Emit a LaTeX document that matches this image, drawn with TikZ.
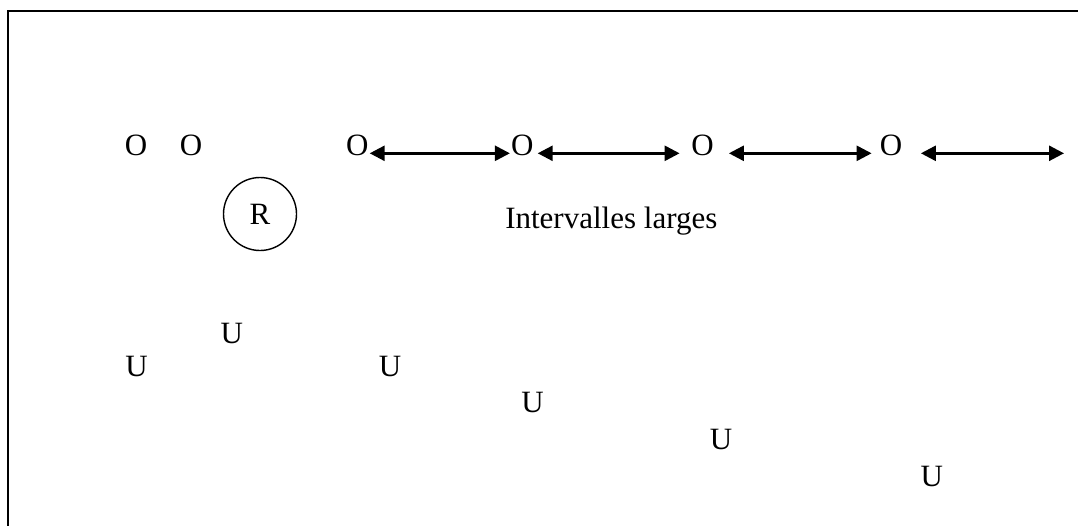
\documentclass[tikz,border=0pt]{standalone}
\usepackage{fontspec}
\setmainfont{Liberation Serif}
\usetikzlibrary{arrows.meta}
\tikzset{
  lbl/.style={inner sep=0pt, anchor=base, font=\fontsize{31}{37}\selectfont},
  ring/.style={circle, draw, line width=1.4pt, minimum size=73pt, inner sep=0pt, font=\fontsize{31}{37}\selectfont},
  dbl/.style={line width=2.6pt, {Triangle[length=15pt,width=15pt]}-{Triangle[length=15pt,width=15pt]}},
  frame/.style={line width=2pt}
}
\begin{document}
\begin{tikzpicture}[x=1pt,y=-1pt]
\useasboundingbox (0,0) rectangle (1078,525);
% frame (top and left edges visible)
\coordinate (fbl) at (8,530);
\coordinate (ftl) at (8,10.5);
\coordinate (ftr) at (1082,10.5);
\draw[frame] (fbl) -- (ftl) -- (ftr);
% top row of O
\node[lbl] (o1) at (136,155.5) {O};
\node[lbl] (o2) at (191,155.5) {O};
\node[lbl] (o3) at (357.3,155.5) {O};
\node[lbl] (o4) at (522.3,155.5) {O};
\node[lbl] (o5) at (702.5,155.5) {O};
\node[lbl] (o6) at (891,155.5) {O};
\coordinate (aend) at (1064,153.3);
% arrows
\draw[dbl] ([xshift=1pt,yshift=2.2pt]o3.base east) -- ([xshift=-1pt,yshift=2.2pt]o4.base west);
\draw[dbl] ([xshift=4pt,yshift=2.2pt]o4.base east) -- ([xshift=-11.5pt,yshift=2.2pt]o5.base west);
\draw[dbl] ([xshift=15pt,yshift=2.2pt]o5.base east) -- ([xshift=-8pt,yshift=2.2pt]o6.base west);
\draw[dbl] ([xshift=18.5pt,yshift=2.2pt]o6.base east) -- (aend);
% circle R
\node[ring] (r) at (260,214) {R};
% label
\node[lbl] (lab) at (611.3,228.3) {Intervalles larges};
% U letters
\node[lbl] (u1) at (231.7,343) {U};
\node[lbl] (u2) at (136.5,376) {U};
\node[lbl] (u3) at (390,376) {U};
\node[lbl] (u4) at (532.5,412.5) {U};
\node[lbl] (u5) at (721,449) {U};
\node[lbl] (u6) at (931.7,486) {U};
\end{tikzpicture}
\end{document}
